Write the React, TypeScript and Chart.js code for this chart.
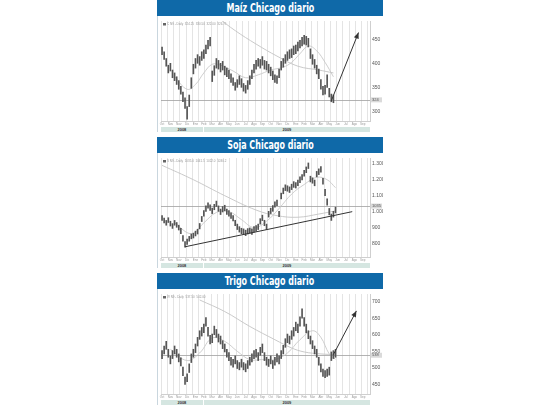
import React, { useEffect, useRef } from 'react';
import { Chart, registerables } from 'chart.js';
Chart.register(...registerables);
Chart.defaults.font.family = "'Liberation Sans', Arial, sans-serif";

const SLOTS = 100;
const categories = Array.from({ length: SLOTS }, (_, i) => String(i));
const xTickLabels = ['Oct', 'Nov', 'Nov', 'Dic', 'Ene', 'Feb', 'Mar', 'Abr', 'May', 'Jun', 'Jul', 'Ago', 'Sep',
  'Oct', 'Nov', 'Dic', 'Ene', 'Feb', 'Mar', 'Abr', 'May', 'Jun', 'Jul', 'Ago', 'Sep'];
const years = ['2008', '2009'];
const yearBoundarySlot = 20;

// ---- Maíz ----
const maizLow = [418, 408, 394, 380, 384, 370, 364, 356, 346, 336, 320, 306, 284, 310, 348, 378, 390, 400, 396, 406,
  410, 420, 430, 436, 362, 375, 390, 388, 382, 386, 376, 372, 368, 360, 354, 344, 350, 356, 350, 342,
  338, 346, 356, 368, 380, 388, 394, 390, 396, 388, 386, 380, 374, 366, 360, 358, 370, 386, 392, 400,
  406, 410, 412, 418, 420, 426, 432, 436, 440, 438, 434, 410, 398, 390, 378, 368, 346, 334, 336, 350,
  330, 320, 318];
const maizHigh = [434, 424, 410, 396, 400, 386, 380, 372, 364, 352, 340, 328, 310, 334, 370, 398, 410, 418, 414, 424,
  428, 438, 448, 454, 384, 395, 410, 406, 400, 404, 394, 390, 386, 378, 370, 360, 366, 374, 368, 358,
  354, 364, 374, 386, 398, 406, 410, 408, 414, 406, 404, 398, 392, 384, 376, 374, 388, 404, 410, 418,
  424, 428, 430, 436, 438, 444, 448, 454, 458, 456, 452, 430, 418, 408, 396, 388, 366, 352, 354, 376,
  348, 336, 334];
const maizMaLong: [number, number][] = [[27, 494], [35, 468], [45, 440], [55, 415], [65, 394], [75, 386], [82, 380]];
const maizMaShort: [number, number][] = [[6, 372], [12, 346], [16, 356], [20, 380], [24, 398], [28, 396], [34, 384], [40, 370],
  [46, 376], [52, 386], [58, 392], [62, 402], [66, 420], [70, 436], [74, 426], [78, 402], [82, 372]];
const maizArrow: [number, number][] = [[81, 322], [94, 464]];
const maizTicks = [300, 350, 400, 450];
const maizTickLabels = ['300', '350', '400', '450'];
const maizRef = 324;

// ---- Soja ----
const sojaLow = [945, 930, 915, 932, 910, 895, 915, 902, 885, 862, 815, 778, 795, 815, 830, 835, 848, 860, 892, 938,
  972, 1002, 1022, 1008, 988, 1012, 1032, 1002, 982, 998, 1005, 982, 972, 958, 942, 912, 888, 872, 862, 858,
  850, 860, 865, 858, 872, 878, 888, 922, 944, 912, 888, 966, 988, 1002, 1028, 1038, 968, 1080, 1112, 1132,
  1128, 1120, 1138, 1152, 1148, 1162, 1182, 1198, 1222, 1244, 1270, 1186, 1178, 1162, 1218, 1232, 1248, 1172, 1100, 1040,
  980, 945, 966, 992];
const sojaHigh = [975, 960, 945, 962, 940, 925, 945, 932, 915, 895, 850, 812, 828, 845, 860, 865, 878, 890, 926, 970,
  1006, 1036, 1056, 1042, 1022, 1046, 1066, 1036, 1016, 1032, 1040, 1016, 1006, 992, 976, 946, 922, 906, 896, 892,
  884, 894, 898, 892, 906, 912, 922, 956, 978, 946, 922, 1002, 1022, 1038, 1062, 1072, 1002, 1116, 1148, 1168,
  1162, 1155, 1172, 1188, 1182, 1198, 1218, 1232, 1258, 1280, 1305, 1222, 1212, 1198, 1252, 1268, 1282, 1208, 1140, 1080,
  1020, 985, 1002, 1028];
const sojaMaLong: [number, number][] = [[0, 1290], [15, 1200], [30, 1100], [45, 1010], [55, 975], [65, 965], [75, 985], [83, 1005]];
const sojaMaShort: [number, number][] = [[6, 930], [14, 862], [20, 930], [26, 995], [32, 1000], [38, 950], [44, 900], [50, 940],
  [56, 1020], [62, 1110], [68, 1170], [74, 1215], [79, 1200], [83, 1150]];
const sojaTrend: [number, number][] = [[11, 780], [91, 1000]];
const sojaTicks = [800, 900, 1000, 1100, 1200, 1300];
const sojaTickLabels = ['800', '900', '1.000', '1.100', '1.200', '1.300'];
const sojaRef = 1035;

// ---- Trigo ----
const trigoLow = [528, 542, 556, 532, 512, 528, 542, 532, 518, 506, 476, 450, 458, 486, 516, 532, 546, 566, 586, 596,
  606, 626, 596, 572, 576, 600, 592, 578, 572, 558, 548, 532, 522, 508, 502, 512, 498, 494, 502, 494,
  488, 498, 508, 518, 528, 532, 522, 538, 546, 522, 508, 504, 512, 498, 508, 518, 512, 528, 542, 562,
  576, 572, 586, 596, 612, 606, 626, 650, 626, 606, 588, 572, 558, 542, 532, 508, 488, 474, 470, 474,
  478, 522, 528, 532];
const trigoHigh = [552, 566, 580, 556, 536, 552, 566, 556, 542, 530, 502, 472, 482, 512, 542, 556, 572, 592, 612, 622,
  632, 652, 622, 598, 602, 626, 616, 602, 596, 582, 572, 556, 546, 532, 526, 536, 522, 516, 526, 516,
  512, 522, 532, 542, 552, 556, 546, 562, 572, 546, 532, 526, 536, 522, 532, 542, 536, 552, 568, 588,
  602, 596, 612, 622, 638, 632, 654, 678, 652, 632, 612, 596, 582, 566, 556, 532, 512, 496, 492, 496,
  502, 548, 552, 556];
const trigoMaLong: [number, number][] = [[18, 705], [30, 670], [42, 625], [54, 585], [62, 560], [68, 548], [76, 542], [83, 540]];
const trigoMaShort: [number, number][] = [[4, 556], [12, 522], [18, 545], [24, 590], [30, 580], [36, 550], [42, 525], [48, 525],
  [54, 525], [60, 545], [66, 585], [72, 612], [76, 592], [80, 542], [83, 526]];
const trigoArrow: [number, number][] = [[82, 540], [93, 672]];
const trigoTicks = [450, 500, 550, 600, 650, 700];
const trigoTickLabels = ['450', '500', '550', '600', '650', '700'];
const trigoRef = 538;

type PanelSpec = {
  title: string; top: number; h: number; low: number[]; high: number[]; min: number; max: number;
  ticks: number[]; tickLabels: string[]; ref: number; maLong: [number, number][]; maShort: [number, number][];
  line: [number, number][]; arrowHead: boolean; legend: string;
};

const panels: PanelSpec[] = [
  { title: 'Maíz Chicago diario', top: 0, h: 111, low: maizLow, high: maizHigh, min: 280, max: 488,
    ticks: maizTicks, tickLabels: maizTickLabels, ref: maizRef, maLong: maizMaLong, maShort: maizMaShort,
    line: maizArrow, arrowHead: true, legend: 'C N9 - Daily  324.25  330.50  322.00  326.75' },
  { title: 'Soja Chicago diario', top: 137, h: 110, low: sojaLow, high: sojaHigh, min: 716, max: 1336,
    ticks: sojaTicks, tickLabels: sojaTickLabels, ref: sojaRef, maLong: sojaMaLong, maShort: sojaMaShort,
    line: sojaTrend, arrowHead: false, legend: 'S N9 - Daily  1035.0  1041.5  1022.0  1030.2' },
  { title: 'Trigo Chicago diario', top: 273, h: 111, low: trigoLow, high: trigoHigh, min: 421, max: 723,
    ticks: trigoTicks, tickLabels: trigoTickLabels, ref: trigoRef, maLong: trigoMaLong, maShort: trigoMaShort,
    line: trigoArrow, arrowHead: true, legend: 'W N9 - Daily  537.50  542.00' },
];

const PANEL_LEFT = 157;
const PANEL_W = 226;
const PLOT_LEFT = 4;
const PLOT_W = 209;

function sparse(points: [number, number][]) {
  const arr: (number | null)[] = new Array(SLOTS).fill(null);
  points.forEach(([i, v]) => { arr[i] = v; });
  return arr;
}

const overlayPlugin = {
  id: 'overlay',
  beforeDatasetsDraw(chart: any, _args: any, opts: any) {
    const p: PanelSpec = opts.panel;
    const { ctx, chartArea: { left, right, top }, scales: { y } } = chart;
    const ry = Math.round(y.getPixelForValue(p.ref)) + 0.5;
    ctx.save();
    ctx.strokeStyle = '#a0a0a0';
    ctx.lineWidth = 0.8;
    ctx.beginPath(); ctx.moveTo(left, ry); ctx.lineTo(right, ry); ctx.stroke();
    ctx.fillStyle = '#666';
    ctx.fillRect(left + 2, top + 2, 3, 2.5);
    ctx.font = '3px Liberation Sans, Arial';
    ctx.fillStyle = '#999';
    ctx.textBaseline = 'middle';
    ctx.fillText(p.legend, left + 6, top + 3.3);
    ctx.restore();
  },
  afterDatasetsDraw(chart: any, _args: any, opts: any) {
    const p: PanelSpec = opts.panel;
    const { ctx, chartArea: { right }, scales: { y } } = chart;
    ctx.save();
    const ry = y.getPixelForValue(p.ref);
    ctx.fillStyle = '#dadada';
    ctx.fillRect(right + 1, ry - 2.5, 11, 5);
    ctx.fillStyle = '#555';
    ctx.font = '4px Liberation Sans, Arial';
    ctx.textBaseline = 'middle';
    ctx.fillText(String(p.ref), right + 2, ry);
    if (p.arrowHead) {
      const meta = chart.getDatasetMeta(3);
      const a = meta.data[p.line[0][0]];
      const b = meta.data[p.line[1][0]];
      const ang = Math.atan2(b.y - a.y, b.x - a.x);
      const L = 6, W = 2.6;
      ctx.fillStyle = '#333';
      ctx.beginPath();
      ctx.moveTo(b.x, b.y);
      ctx.lineTo(b.x - L * Math.cos(ang) + W * Math.sin(ang), b.y - L * Math.sin(ang) - W * Math.cos(ang));
      ctx.lineTo(b.x - L * Math.cos(ang) - W * Math.sin(ang), b.y - L * Math.sin(ang) + W * Math.cos(ang));
      ctx.closePath();
      ctx.fill();
    }
    ctx.restore();
  },
};

function Panel({ p }: { p: PanelSpec }) {
  const ref = useRef<HTMLCanvasElement>(null);
  useEffect(() => {
    if (!ref.current) return;
    const chart = new Chart(ref.current, {
      type: 'bar',
      data: {
        labels: categories,
        datasets: [
          { type: 'bar', data: p.low.map((l, i) => [l, p.high[i]]) as any, backgroundColor: '#555',
            barThickness: 1, order: 1 },
          { type: 'line', data: sparse(p.maLong), borderColor: '#c4c4c4', borderWidth: 0.9, pointRadius: 0,
            spanGaps: true, tension: 0.4, order: 3 } as any,
          { type: 'line', data: sparse(p.maShort), borderColor: '#c8c8c8', borderWidth: 0.9, pointRadius: 0,
            spanGaps: true, tension: 0.4, order: 2 } as any,
          { type: 'line', data: sparse(p.line), borderColor: '#333', borderWidth: 1, pointRadius: 0,
            spanGaps: true, tension: 0, order: 0 } as any,
        ],
      },
      options: {
        responsive: false,
        animation: false,
        events: [],
        layout: { padding: { left: PLOT_LEFT, top: 1, right: 0, bottom: 0 } },
        plugins: { legend: { display: false }, tooltip: { enabled: false }, overlay: { panel: p } } as any,
        scales: {
          x: {
            offset: true,
            grid: {
              offset: true,
              color: (c: any) => (c.index % 3 === 0 ? '#e4e4e4' : 'rgba(0,0,0,0)'),
              lineWidth: 1,
              drawTicks: false,
              tickLength: 0,
            },
            border: { display: true, color: '#cfcfcf' },
            ticks: {
              autoSkip: false, maxRotation: 0, minRotation: 0, padding: 1,
              font: { size: 3 }, color: '#999',
              callback: (_v: any, i: number) => (i % 4 === 0 ? xTickLabels[i / 4] : ''),
            },
            afterFit: (s: any) => { s.height = 6; },
          },
          y: {
            position: 'right',
            min: p.min, max: p.max,
            grid: { display: false, drawTicks: false, tickLength: 0 },
            border: { display: true, color: '#cfcfcf' },
            afterBuildTicks: (s: any) => { s.ticks = p.ticks.map((v) => ({ value: v })); },
            ticks: {
              font: { size: 5 }, color: '#555', padding: 2,
              callback: (v: any) => p.tickLabels[p.ticks.indexOf(Number(v))] ?? '',
            },
            afterFit: (s: any) => { s.width = PANEL_W - PLOT_LEFT - PLOT_W; },
          },
        },
      } as any,
      plugins: [overlayPlugin],
    });
    return () => chart.destroy();
  }, [p]);

  const boundaryPx = PLOT_LEFT + (PLOT_W / SLOTS) * yearBoundarySlot;
  return (
    <div style={{ position: 'absolute', left: PANEL_LEFT, top: p.top, width: PANEL_W, height: 16 + p.h + 5 }}>
      <div style={{
        height: 16, background: '#0f69a8', color: '#fff', textAlign: 'center', lineHeight: '16px',
        fontFamily: "'DejaVu Sans Condensed', 'Liberation Sans', sans-serif", fontWeight: 'bold',
        fontSize: 12, whiteSpace: 'nowrap', overflow: 'hidden',
      }}>
        <span style={{ display: 'inline-block', transform: 'scaleX(0.74)', transformOrigin: 'center' }}>{p.title}</span>
      </div>
      <div style={{ position: 'absolute', left: 0, top: 16, width: 1, height: p.h + 5, background: '#c9d6de' }} />
      <canvas ref={ref} width={PANEL_W} height={p.h} style={{ position: 'absolute', left: 0, top: 16, display: 'block' }} />
      <div style={{
        position: 'absolute', left: PLOT_LEFT, top: 16 + p.h, width: PLOT_W, height: 5, background: '#d5e6e1',
        fontFamily: "'Liberation Sans', Arial, sans-serif", fontSize: 4, fontWeight: 'bold', color: '#333',
        lineHeight: '5px',
      }}>
        <div style={{ position: 'absolute', left: 0, top: 0, width: boundaryPx - PLOT_LEFT, height: 5, textAlign: 'center' }}>{years[0]}</div>
        <div style={{ position: 'absolute', left: boundaryPx - PLOT_LEFT, top: 0, width: 1, height: 5, background: '#fff' }} />
        <div style={{ position: 'absolute', left: boundaryPx - PLOT_LEFT + 1, top: 0, right: 0, height: 5, textAlign: 'center' }}>{years[1]}</div>
      </div>
    </div>
  );
}

export default function App() {
  return (
    <div style={{ position: 'fixed', left: 0, top: 0, width: 540, height: 405, background: '#fff', overflow: 'hidden' }}>
      {panels.map((p) => <Panel key={p.title} p={p} />)}
    </div>
  );
}
